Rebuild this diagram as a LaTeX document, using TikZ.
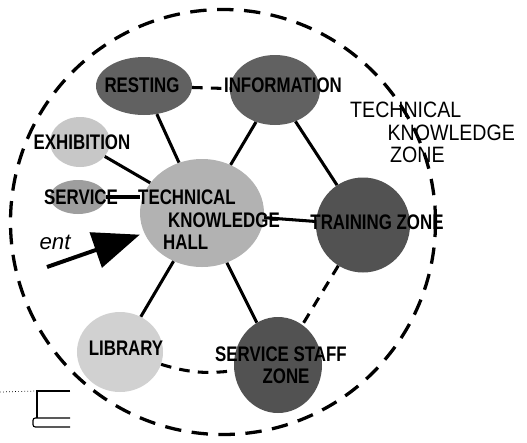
\documentclass[tikz,border=0pt]{standalone}
\usepackage{fontspec}
\setmainfont{Liberation Sans}
\newfontfamily\zonefont[FakeStretch=0.8]{Liberation Sans}
\newfontfamily\areafont[FakeStretch=0.88]{Liberation Sans}
\usetikzlibrary{arrows.meta,shapes.geometric}

\begin{document}
\begin{tikzpicture}[
  x=0.03cm, y=-0.03cm,
  every node/.style={align=center},
  zone/.style   ={ellipse, draw=none, inner sep=0pt},
  darkzone/.style ={zone, fill=black!62},
  midzone/.style  ={zone, fill=black!38},
  lightzone/.style={zone, fill=black!22},
  tag/.style    ={font=\zonefont\bfseries\fontsize{18}{19}\selectfont, inner sep=0pt},
  hand/.style   ={font=\areafont\fontsize{19}{19}\selectfont, inner sep=0pt},
  link/.style   ={draw=black, line width=2.6pt},
  link-d/.style ={draw=black, line width=2.6pt, dash pattern=on 9pt off 7pt},
  border/.style ={draw=black, line width=2.8pt, dash pattern=on 14pt off 9pt},
]
\useasboundingbox (0,0) rectangle (527,442);

% --- Limite de la zone ---
\node[circle, border, minimum size=12.75cm] (area) at (223,222) {};

% --- Espaces ---
\node[darkzone,  minimum width=2.88cm, minimum height=1.74cm] (resting)  at (144,86)  {};
\node[darkzone,  minimum width=2.70cm, minimum height=2.10cm] (info)     at (275,90)  {};
\node[lightzone, minimum width=1.80cm, minimum height=1.50cm] (exhib)    at (80,142)  {};
\node[midzone,   minimum width=1.68cm, minimum height=1.02cm] (service)  at (78,197)  {};
\node[lightzone, minimum width=3.72cm, minimum height=3.24cm, fill=black!30] (hall) at (202,213) {};
\node[darkzone,  minimum width=2.82cm, minimum height=2.85cm, fill=black!68] (training) at (363,225) {};
\node[lightzone, minimum width=2.58cm, minimum height=2.40cm, fill=black!18] (library)  at (120,352) {};
\node[darkzone,  minimum width=2.64cm, minimum height=2.88cm, fill=black!68] (staff)    at (278,365) {};

% --- Liens ---
\draw[link]   (resting) -- (hall);
\draw[link]   (info) -- (hall);
\draw[link]   (info) -- (training);
\draw[link]   (exhib) -- (hall);
\draw[link]   (service.east) -- (hall.west |- service.east);
\draw[link]   (hall) -- (training);
\draw[link]   (hall) -- (library);
\draw[link]   (hall) -- (staff);
\draw[link-d] (resting) -- (info);
\draw[link-d] (training) -- (staff);
\draw[link-d] (library) to[bend right=12] (staff);

% --- Entrée ---
\coordinate (ent) at (47,267);
\draw[line width=3.4pt, -{Triangle[length=1.4cm, width=1.1cm]}, shorten >=4pt] (ent) -- (hall);
\node[hand, font=\itshape\fontsize{19}{19}\selectfont] (ent-txt) at (55,242) {ent};

% --- Textes ---
\node[tag] (resting-txt)  at (142,85)  {RESTING};
\node[tag] (info-txt)     at (283,85)  {INFORMATION};
\node[tag] (exhib-txt)    at (82,142)  {EXHIBITION};
\node[tag] (service-txt)  at (81,197)  {SERVICE};
\node[tag, anchor=north west, align=left] (hall-txt) at (138,190)
  {TECHNICAL\\\hspace*{0.9cm}KNOWLEDGE\\\hspace*{0.75cm}HALL};
\node[tag] (training-txt) at (377,222) {TRAINING ZONE};
\node[tag] (library-txt)  at (126,348) {LIBRARY};
\node[tag] (staff-txt)    at (281,365) {SERVICE STAFF\\\hspace*{0.3cm}ZONE};
\node[hand, anchor=north west, align=left] (area-txt) at (350,102)
  {TECHNICAL\\\hspace*{1.12cm}KNOWLEDGE\\\hspace*{1.2cm}ZONE};

% --- Repère en bas à gauche ---
\coordinate (mark-a) at (37,391);
\coordinate (mark-b) at (70,391);
\coordinate (mark-c) at (37,418);
\draw[line width=0.6pt, dotted] (0,392) -- (mark-a);
\draw[line width=1pt] (mark-b) -- (mark-a) -- (mark-c);
\draw[line width=1pt, rounded corners=2pt] (70,418) -- (33,418) -- (33,427) -- (70,427);

\end{tikzpicture}
\end{document}
